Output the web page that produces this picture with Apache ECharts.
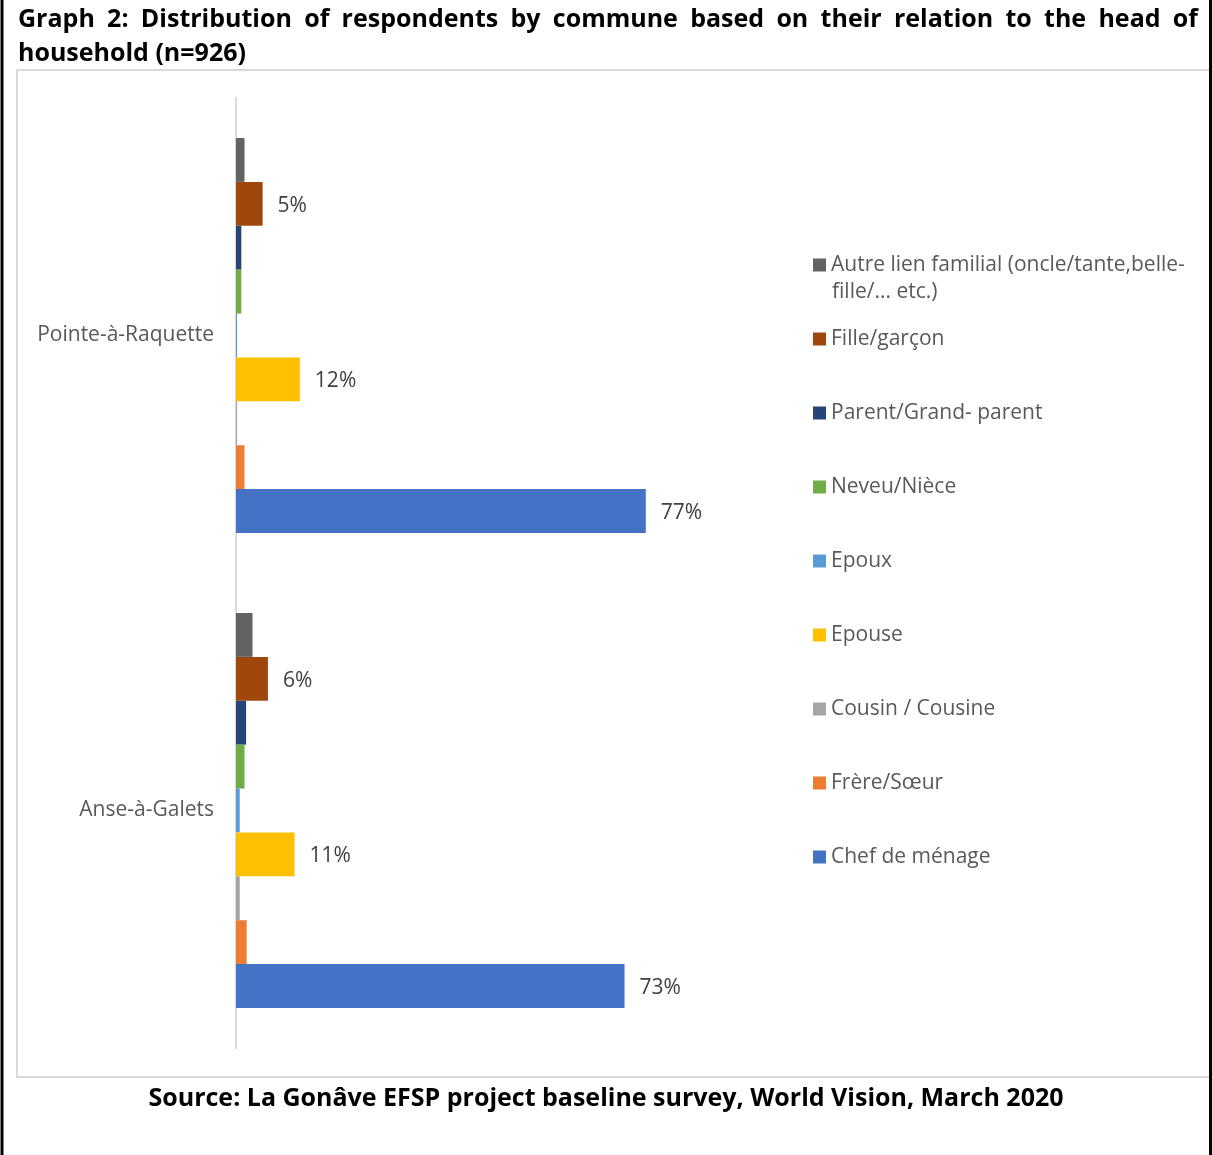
<!DOCTYPE html>
<html>
<head>
<meta charset="utf-8">
<title>Graph 2: Distribution of respondents by commune</title>
<script src="https://cdn.jsdelivr.net/npm/echarts@6/dist/echarts.min.js"></script>
<style>
  html, body { margin: 0; padding: 0; background: #ffffff; }
  #chart { width: 1212px; height: 1155px; }
</style>
</head>
<body>
<div id="chart"></div>
<script>
// Communes (category axis, top to bottom)
const communes = ['Pointe-à-Raquette', 'Anse-à-Galets'];

// Relation to head of household, in legend order (top to bottom)
const relations = [
  'Autre lien familial (oncle/tante,belle-\nfille/... etc.)',
  'Fille/garçon',
  'Parent/Grand- parent',
  'Neveu/Nièce',
  'Epoux',
  'Epouse',
  'Cousin / Cousine',
  'Frère/Sœur',
  'Chef de ménage'
];

// Share of respondents (%) per relation, [Pointe-à-Raquette, Anse-à-Galets]
const autreLien   = [1.6, 3.1];
const filleGarcon = [5, 6];
const parentGrand = [1.0, 1.9];
const neveuNiece  = [1.0, 1.6];
const epoux       = [0.2, 0.7];
const epouse      = [12, 11];
const cousin      = [0.2, 0.7];
const frereSoeur  = [1.6, 2.0];
const chefMenage  = [77, 73];

const seriesValues = [autreLien, filleGarcon, parentGrand, neveuNiece, epoux, epouse, cousin, frereSoeur, chefMenage];
const seriesColors = ['#636363', '#9E480E', '#264478', '#70AD47', '#5B9BD5', '#FFC000', '#A5A5A5', '#ED7D31', '#4472C4'];
// Only these series carry value labels
const labelled = [false, true, false, false, false, true, false, false, true];

const TITLE_LINE_1 = 'Graph 2: Distribution of respondents by commune based on their relation to the head of';
const TITLE_LINE_2 = 'household (n=926)';
const SOURCE = 'Source: La Gonâve EFSP project baseline survey, World Vision, March 2020';

const FONT = '"Open Sans", Lato, sans-serif';
const TEXT_SIZE = 21;
const TITLE_SIZE = 25;
const TITLE_SPAN = 1180; // justified width of the first title line

// Justify the first title line: widen the word gaps so the line fills TITLE_SPAN
const measureCtx = document.createElement('canvas').getContext('2d');
measureCtx.font = 'bold ' + TITLE_SIZE + 'px ' + FONT;
const titleWords = TITLE_LINE_1.split(' ');
const wordsWidth = titleWords.reduce((s, w) => s + measureCtx.measureText(w).width, 0);
const gapWidth = Math.max(4, (TITLE_SPAN - wordsWidth) / (titleWords.length - 1));
const titleRich = titleWords.join('{sp| }') + '\n' + TITLE_LINE_2;

const chart = echarts.init(document.getElementById('chart'), null, { renderer: 'canvas' });

const series = relations.map((name, i) => ({
  name: name,
  type: 'bar',
  data: seriesValues[i],
  barGap: '0%',
  barCategoryGap: '16.84%',
  itemStyle: { color: seriesColors[i] },
  label: {
    show: labelled[i],
    position: 'right',
    distance: 15,
    offset: [0, 2],
    formatter: '{c}%',
    fontFamily: FONT,
    fontSize: TEXT_SIZE,
    color: '#404040'
  },
  emphasis: { disabled: true }
}));

chart.setOption({
  animation: false,
  backgroundColor: '#ffffff',
  title: [
    {
      text: titleRich,
      left: 18,
      top: 3,
      padding: 0,
      textStyle: {
        fontFamily: FONT,
        fontWeight: 'bold',
        fontSize: TITLE_SIZE,
        lineHeight: 34,
        color: '#000000',
        rich: {
          sp: {
            width: gapWidth,
            fontFamily: FONT,
            fontWeight: 'bold',
            fontSize: TITLE_SIZE,
            lineHeight: 34
          }
        }
      }
    },
    {
      text: SOURCE,
      left: 'center',
      top: 1083,
      padding: 0,
      textStyle: {
        fontFamily: FONT,
        fontWeight: 'bold',
        fontSize: TITLE_SIZE,
        lineHeight: 32,
        color: '#000000'
      }
    }
  ],
  legend: {
    orient: 'vertical',
    left: 813,
    top: 253,
    padding: 0,
    itemWidth: 13,
    itemHeight: 13,
    itemGap: 50,
    icon: 'rect',
    selectedMode: false,
    formatter: name => name.split('\n')[0],
    textStyle: {
      fontFamily: FONT,
      fontSize: TEXT_SIZE,
      lineHeight: 24,
      color: '#595959'
    },
    data: relations
  },
  grid: {
    left: 236,
    top: 98,
    width: 479,
    height: 950,
    containLabel: false
  },
  xAxis: {
    type: 'value',
    min: 0,
    max: 90,
    show: false
  },
  yAxis: {
    type: 'category',
    inverse: true,
    data: communes,
    axisLine: { show: true, lineStyle: { color: '#d9d9d9', width: 2 } },
    axisTick: { show: false },
    splitLine: { show: false },
    axisLabel: {
      margin: 22,
      padding: [5, 0, 0, 0],
      fontFamily: FONT,
      fontSize: TEXT_SIZE,
      color: '#595959'
    }
  },
  series: series,
  graphic: [
    // second line of the first legend entry
    {
      type: 'text',
      left: 832,
      top: 282,
      style: {
        text: relations[0].split('\n')[1],
        font: TEXT_SIZE + 'px ' + FONT,
        fill: '#595959'
      },
      silent: true
    },
    // chart area frame
    {
      type: 'rect',
      shape: { x: 17, y: 70, width: 1210, height: 1007 },
      style: { fill: null, stroke: '#d9d9d9', lineWidth: 2 },
      silent: true,
      z: -1
    },
    // page frame lines
    {
      type: 'line',
      shape: { x1: 2, y1: 0, x2: 2, y2: 1155 },
      style: { stroke: '#000000', lineWidth: 3 },
      silent: true
    },
    {
      type: 'line',
      shape: { x1: 1210.5, y1: 0, x2: 1210.5, y2: 1155 },
      style: { stroke: '#000000', lineWidth: 3 },
      silent: true
    }
  ]
});
</script>
</body>
</html>
